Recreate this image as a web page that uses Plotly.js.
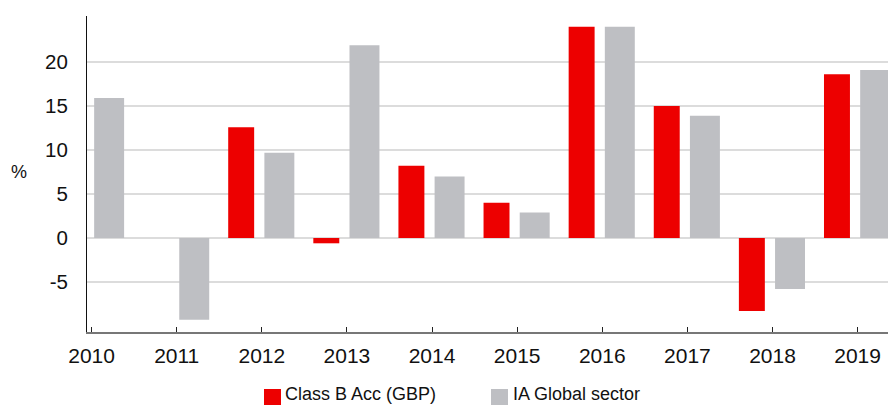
<!DOCTYPE html>
<html>
<head>
<meta charset="utf-8">
<script src="https://cdn.plot.ly/plotly-3.0.1.min.js"></script>
<style>
html,body{margin:0;padding:0;background:#fff;}
#chart{width:888px;height:405px;}
</style>
</head>
<body>
<div id="chart"></div>
<script>
const years = ['2010','2011','2012','2013','2014','2015','2016','2017','2018','2019'];
const fundName = 'Class B Acc (GBP)';
const sectorName = 'IA Global sector';
const fundValues = [null, null, 12.6, -0.6, 8.2, 4.0, 24.0, 15.0, -8.3, 18.6];
const sectorValues = [15.9, -9.3, 9.7, 21.9, 7.0, 2.9, 24.0, 13.9, -5.8, 19.1];
const yTicks = [-5, 0, 5, 10, 15, 20];

const FONT = 'Liberation Sans, Arial, Helvetica, sans-serif';
const FUND_COLOR = '#ED0000';
const SECTOR_COLOR = '#BEBFC3';

const W = 888, H = 405;
const M = {l: 87, r: 0, t: 16, b: 73};
const PW = W - M.l - M.r, PH = H - M.t - M.b;
// pixel -> paper helpers for the legend placed under the plot
const px = v => (v - M.l) / PW;
const py = v => (H - M.b - v) / PH;

const traces = [
  {
    type: 'bar', name: fundName, x: years, y: fundValues,
    marker: {color: FUND_COLOR}, offset: -0.395, width: 0.305,
    hoverinfo: 'x+y'
  },
  {
    type: 'bar', name: sectorName, x: years, y: sectorValues,
    marker: {color: SECTOR_COLOR}, offset: 0.03, width: 0.352,
    hoverinfo: 'x+y'
  }
];

const legendItems = [
  {name: fundName, color: FUND_COLOR, sx: 264, tx: 285},
  {name: sectorName, color: SECTOR_COLOR, sx: 491, tx: 513}
];

const shapes = legendItems.map(it => ({
  type: 'rect', xref: 'paper', yref: 'paper',
  x0: px(it.sx), x1: px(it.sx + 17), y0: py(389), y1: py(405),
  fillcolor: it.color, line: {width: 0}, layer: 'above'
}));

const annotations = [{
  text: '%', xref: 'paper', yref: 'paper',
  x: px(18.7), y: py(172), xanchor: 'center', yanchor: 'middle',
  showarrow: false, font: {family: FONT, size: 18, color: '#111111'}
}].concat(legendItems.map(it => ({
  text: it.name, xref: 'paper', yref: 'paper',
  x: px(it.tx - 1), y: py(404.5), xanchor: 'left', yanchor: 'bottom',
  borderpad: 0,
  showarrow: false, font: {family: FONT, size: 18, color: '#111111'}
})));

const layout = {
  width: W, height: H,
  margin: {l: M.l, r: M.r, t: M.t, b: M.b, pad: 0},
  paper_bgcolor: '#ffffff', plot_bgcolor: '#ffffff',
  barmode: 'overlay',
  font: {family: FONT, color: '#111111'},
  showlegend: false,
  xaxis: {
    type: 'category',
    range: [-0.054, 9.357],
    showgrid: false, zeroline: false,
    showline: true, linecolor: '#777777', linewidth: 2,
    ticks: 'inside', ticklen: 5, tickwidth: 1, tickcolor: '#222222',
    tickfont: {family: FONT, size: 21, color: '#111111'},
    ticklabelstandoff: 4
  },
  yaxis: {
    range: [-10.68, 25.23],
    tickvals: yTicks, ticktext: yTicks.map(String),
    showgrid: true, gridcolor: '#DCDCDC', gridwidth: 1.5,
    zeroline: false,
    showline: true, linecolor: '#111111', linewidth: 1,
    ticks: '',
    tickfont: {family: FONT, size: 20.5, color: '#111111'},
    ticklabelstandoff: 14
  },
  shapes: shapes,
  annotations: annotations
};

Plotly.newPlot('chart', traces, layout, {displayModeBar: false, staticPlot: true});
</script>
</body>
</html>
